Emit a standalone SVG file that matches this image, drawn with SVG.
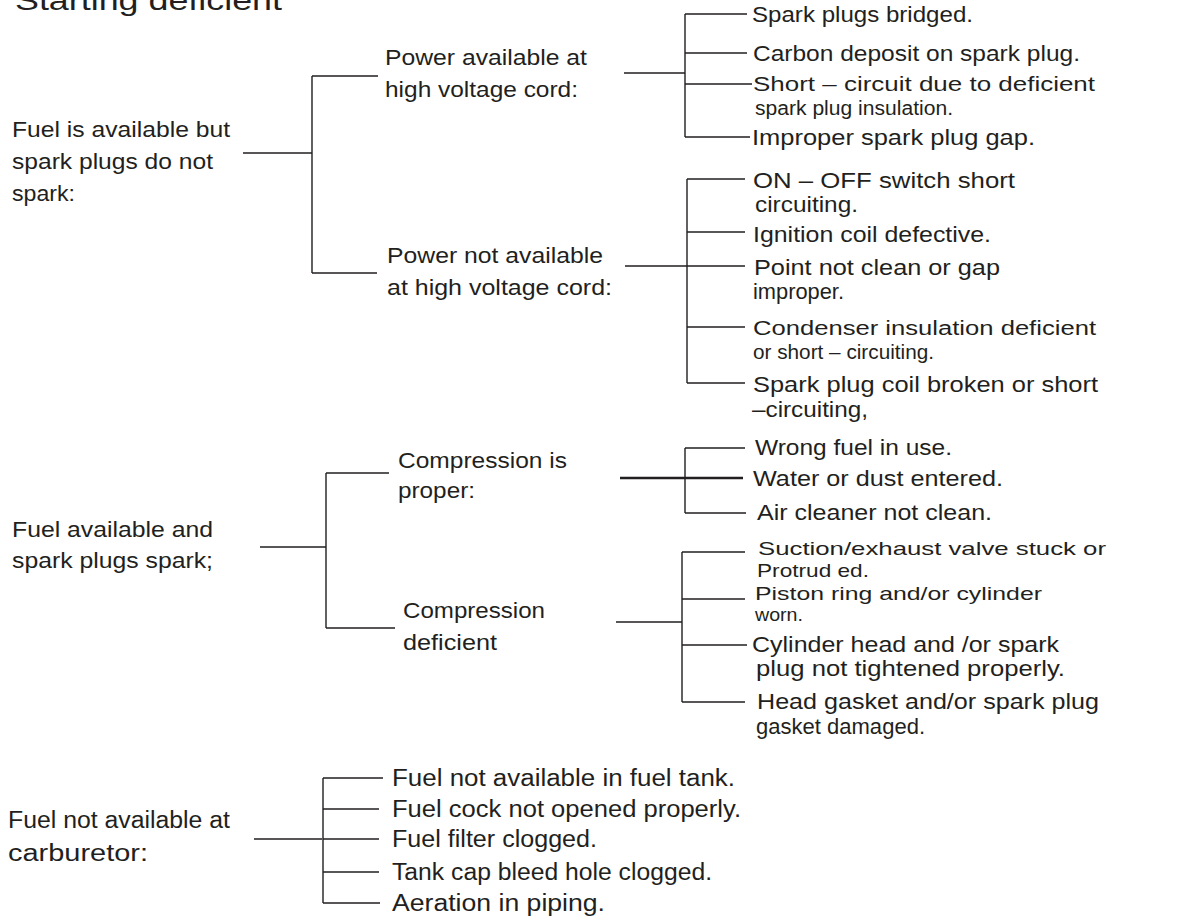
<svg xmlns="http://www.w3.org/2000/svg" width="1192" height="923" viewBox="0 0 1192 923">
<style>
text{font-family:"Liberation Sans",Arial,sans-serif;font-size:22px;fill:#231f20}
.t{font-size:28px}
.n{font-size:23px}
.s{font-size:19px}
.w{font-size:20px}
.c path{fill:none;stroke:#231f20;stroke-width:1.4}
.c path.k{stroke-width:2.6}
</style>
<rect width="1192" height="923" fill="#ffffff"/>
<text class="t" x="15" y="10" textLength="267" lengthAdjust="spacingAndGlyphs">Starting deficient</text>
<g class="c" id="connectors">
<path d="M243 153H312M312 76V273M312 76H378M312 273H377"/>
<path d="M624 73H685M685 14V137M685 14H747M685 53H747M685 84H752M685 137H750"/>
<path d="M625 266H687M687 179V383M687 179H745M687 232H745M687 266H745M687 327H745M687 383H745"/>
<path d="M260 547H326M326 473V628M326 473H389M326 628H395"/>
<path class="k" d="M620 478H743"/>
<path d="M685 448V513M685 448H745M685 513H746"/>
<path d="M616 622H682M682 552V702M682 552H745M682 599H745M682 645H747M682 702H745"/>
<path d="M254 839H322M323 778V903M323 778H383M323 809H379M323 839H379M323 872H379M323 903H380"/>
</g>
<g id="n-fuel-no-spark">
<text x="12" y="137" textLength="218" lengthAdjust="spacingAndGlyphs">Fuel is available but</text>
<text x="12" y="169" textLength="201" lengthAdjust="spacingAndGlyphs">spark plugs do not</text>
<text x="12" y="201" textLength="63" lengthAdjust="spacingAndGlyphs">spark:</text>
</g>
<g id="n-power-available">
<text x="385" y="65" textLength="202" lengthAdjust="spacingAndGlyphs">Power available at</text>
<text x="385" y="97" textLength="193" lengthAdjust="spacingAndGlyphs">high voltage cord:</text>
</g>
<g id="n-power-not-available">
<text x="387" y="263" textLength="216" lengthAdjust="spacingAndGlyphs">Power not available</text>
<text x="387" y="295" textLength="225" lengthAdjust="spacingAndGlyphs">at high voltage cord:</text>
</g>
<g id="n-bridged"><text x="752" y="22" textLength="221" lengthAdjust="spacingAndGlyphs">Spark plugs bridged.</text></g>
<g id="n-carbon"><text x="753" y="61" textLength="327" lengthAdjust="spacingAndGlyphs">Carbon deposit on spark plug.</text></g>
<g id="n-short">
<text class="w" x="753" y="91" textLength="342" lengthAdjust="spacingAndGlyphs">Short – circuit due to deficient</text>
<text class="w" x="755" y="115" textLength="198" lengthAdjust="spacingAndGlyphs">spark plug insulation.</text>
</g>
<g id="n-gap"><text x="752" y="145" textLength="283" lengthAdjust="spacingAndGlyphs">Improper spark plug gap.</text></g>
<g id="n-onoff">
<text x="753" y="188" textLength="262" lengthAdjust="spacingAndGlyphs">ON – OFF switch short</text>
<text x="755" y="212" textLength="103" lengthAdjust="spacingAndGlyphs">circuiting.</text>
</g>
<g id="n-ignition"><text x="753" y="242" textLength="238" lengthAdjust="spacingAndGlyphs">Ignition coil defective.</text></g>
<g id="n-point">
<text x="754" y="275" textLength="246" lengthAdjust="spacingAndGlyphs">Point not clean or gap</text>
<text x="753" y="299" textLength="91" lengthAdjust="spacingAndGlyphs">improper.</text>
</g>
<g id="n-condenser">
<text class="w" x="753" y="335" textLength="343" lengthAdjust="spacingAndGlyphs">Condenser insulation deficient</text>
<text class="w" x="753" y="359" textLength="181" lengthAdjust="spacingAndGlyphs">or short – circuiting.</text>
</g>
<g id="n-coil">
<text x="753" y="392" textLength="345" lengthAdjust="spacingAndGlyphs">Spark plug coil broken or short</text>
<text x="752" y="417" textLength="116" lengthAdjust="spacingAndGlyphs">–circuiting,</text>
</g>
<g id="n-fuel-spark">
<text x="12" y="537" textLength="201" lengthAdjust="spacingAndGlyphs">Fuel available and</text>
<text x="12" y="568" textLength="201" lengthAdjust="spacingAndGlyphs">spark plugs spark;</text>
</g>
<g id="n-compression-proper">
<text x="398" y="468" textLength="169" lengthAdjust="spacingAndGlyphs">Compression is</text>
<text x="398" y="498" textLength="77" lengthAdjust="spacingAndGlyphs">proper:</text>
</g>
<g id="n-compression-deficient">
<text x="403" y="618" textLength="142" lengthAdjust="spacingAndGlyphs">Compression</text>
<text x="403" y="650" textLength="94" lengthAdjust="spacingAndGlyphs">deficient</text>
</g>
<g id="n-wrong-fuel"><text x="755" y="455" textLength="197" lengthAdjust="spacingAndGlyphs">Wrong fuel in use.</text></g>
<g id="n-water"><text x="753" y="486" textLength="250" lengthAdjust="spacingAndGlyphs">Water or dust entered.</text></g>
<g id="n-air"><text x="757" y="520" textLength="235" lengthAdjust="spacingAndGlyphs">Air cleaner not clean.</text></g>
<g id="n-valve">
<text class="s" x="758" y="555" textLength="348" lengthAdjust="spacingAndGlyphs">Suction/exhaust valve stuck or</text>
<text class="s" x="757" y="577" textLength="112" lengthAdjust="spacingAndGlyphs">Protrud ed.</text>
</g>
<g id="n-piston">
<text class="s" x="755" y="600" textLength="287" lengthAdjust="spacingAndGlyphs">Piston ring and/or cylinder</text>
<text class="s" x="755" y="621" textLength="48" lengthAdjust="spacingAndGlyphs">worn.</text>
</g>
<g id="n-head">
<text x="752" y="652" textLength="307" lengthAdjust="spacingAndGlyphs">Cylinder head and /or spark</text>
<text x="756" y="676" textLength="309" lengthAdjust="spacingAndGlyphs">plug not tightened properly.</text>
</g>
<g id="n-gasket">
<text x="757" y="709" textLength="342" lengthAdjust="spacingAndGlyphs">Head gasket and/or spark plug</text>
<text x="756" y="734" textLength="169" lengthAdjust="spacingAndGlyphs">gasket damaged.</text>
</g>
<g id="n-fuel-not-available">
<text class="n" x="8" y="828" textLength="222" lengthAdjust="spacingAndGlyphs">Fuel not available at</text>
<text class="n" x="8" y="861" textLength="140" lengthAdjust="spacingAndGlyphs">carburetor:</text>
</g>
<g id="n-tank"><text class="n" x="392" y="786" textLength="343" lengthAdjust="spacingAndGlyphs">Fuel not available in fuel tank.</text></g>
<g id="n-cock"><text class="n" x="392" y="817" textLength="349" lengthAdjust="spacingAndGlyphs">Fuel cock not opened properly.</text></g>
<g id="n-filter"><text class="n" x="392" y="847" textLength="205" lengthAdjust="spacingAndGlyphs">Fuel filter clogged.</text></g>
<g id="n-cap"><text class="n" x="392" y="880" textLength="320" lengthAdjust="spacingAndGlyphs">Tank cap bleed hole clogged.</text></g>
<g id="n-aeration"><text class="n" x="392" y="911" textLength="213" lengthAdjust="spacingAndGlyphs">Aeration in piping.</text></g>
</svg>
